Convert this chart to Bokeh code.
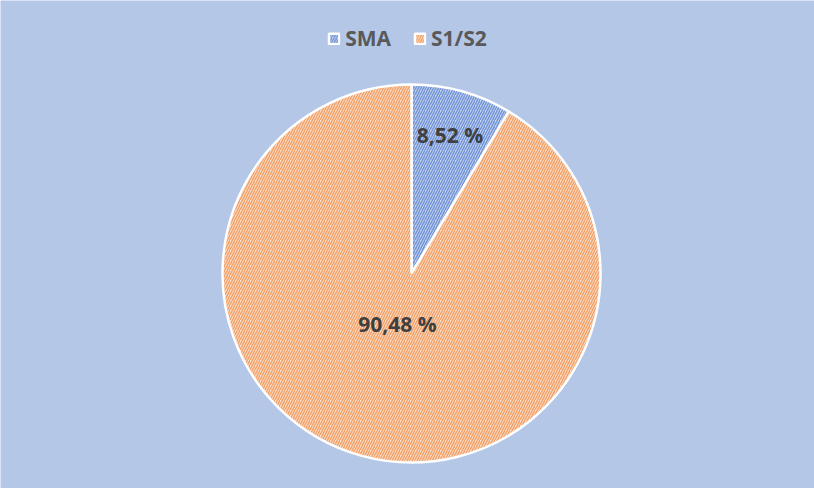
import math
from bokeh.plotting import figure
from bokeh.models import ColumnDataSource, Legend, LegendItem, LabelSet
from bokeh.core.properties import value
from bokeh.embed import file_html
from bokeh.resources import INLINE

categories = ["SMA", "S1/S2"]
values = [8.52, 90.48]
labels = ["8,52 %", "90,48 %"]
fill_colors = ["#CAD7F1", "#FCE2CF"]
hatch_colors = ["#7394D6", "#F2A26A"]
label_radius = [0.76, 0.28]

W, H = 814, 488
BG = "#B4C7E7"

total = sum(values)
cx, cy, r = 411, H - 273, 189
starts, ends, lx, ly = [], [], [], []
a = math.pi / 2
for v, f in zip(values, label_radius):
    sweep = 2 * math.pi * v / total
    starts.append(a - sweep)
    ends.append(a)
    mid = a - sweep / 2
    lx.append(cx + f * r * math.cos(mid))
    ly.append(cy + f * r * math.sin(mid))
    a -= sweep

src = ColumnDataSource(dict(label=labels, lx=lx, ly=ly))

p = figure(width=W, height=H, x_range=(0, W), y_range=(0, H),
           output_backend="svg", toolbar_location=None, min_border=0)
p.axis.visible = False
p.grid.visible = False
p.outline_line_color = None
p.background_fill_color = BG
p.border_fill_color = BG

renderers = []
for i in range(len(categories)):
    rr = p.wedge(x=cx, y=cy, radius=r, start_angle=starts[i], end_angle=ends[i],
                 fill_color=fill_colors[i], hatch_pattern="/", hatch_color=hatch_colors[i],
                 hatch_scale=5, hatch_weight=1.5, line_color="white", line_width=2.5)
    renderers.append(rr)

lab = LabelSet(x="lx", y="ly", text="label", source=src, text_align="center",
               text_baseline="middle", text_font=value("Open Sans"), text_font_style="bold",
               text_font_size="21px", text_color="#404040")
p.add_layout(lab)

legend = Legend(items=[LegendItem(label=categories[i], renderers=[renderers[i]]) for i in range(len(categories))],
                orientation="horizontal", location="top_center",
                background_fill_alpha=0, border_line_alpha=0,
                label_text_font="Open Sans", label_text_font_style="bold",
                label_text_font_size="21px", label_text_color="#595959",
                glyph_width=13, glyph_height=13, spacing=22, label_standoff=5,
                margin=20, padding=4)
p.add_layout(legend)

html = file_html(p, INLINE)
open("out.html", "w").write(html)
